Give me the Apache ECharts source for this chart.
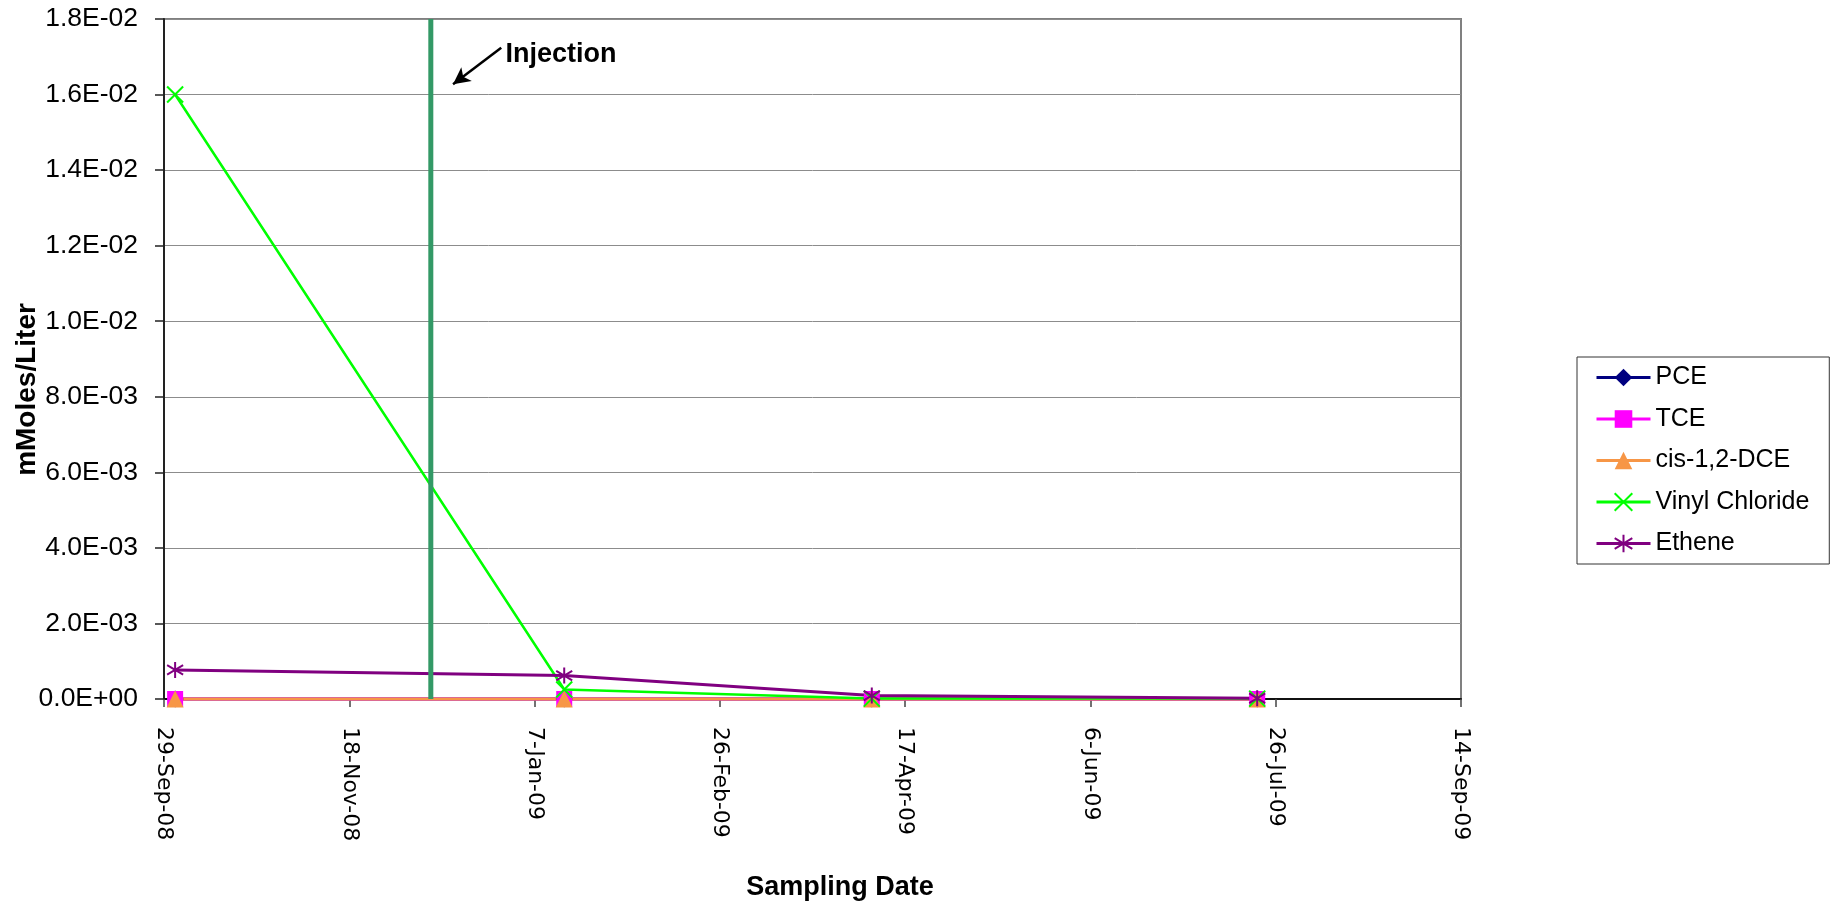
<!DOCTYPE html>
<html>
<head>
<meta charset="utf-8">
<title>mMoles/Liter vs Sampling Date</title>
<script src="https://cdn.jsdelivr.net/npm/echarts@6/dist/echarts.min.js"></script>
<style>
  html, body { margin: 0; padding: 0; background: #ffffff; }
  #chart { width: 1836px; height: 908px; }
</style>
</head>
<body>
<div id="chart"></div>
<script>
// Sampling dates and measured concentrations (mMoles/Liter)
const sampleDates = ['2008-10-02', '2009-01-15', '2009-04-08', '2009-07-21'];
const pce = [0, 0, 0, 0];
const tce = [0, 0, 0, 0];
const cisDce = [0, 0, 0, 0];
const vinylChloride = [0.016, 0.00025, 0.00001, 0.00001];
const ethene = [0.00077, 0.00062, 0.00009, 0.00002];

// Axis settings: x axis runs in days from its first tick date
const axisStartDate = '2008-09-29';
const xAxisDays = 350;
const xTickDays = 50;
const yMax = 0.018;
const yTick = 0.002;

// Injection event and its annotation arrow / label anchors
const injectionDate = '2008-12-10';
const injectionLabel = 'Injection';
const arrowTail = ['2008-12-29', 0.01724];
const arrowHead = ['2008-12-16', 0.01627];
const labelAnchor = ['2008-12-30', 0.01707];

const seriesNames = ['PCE', 'TCE', 'cis-1,2-DCE', 'Vinyl Chloride', 'Ethene'];
const MONTHS = ['Jan','Feb','Mar','Apr','May','Jun','Jul','Aug','Sep','Oct','Nov','Dec'];
const DAY_MS = 86400000;

function toUTC(s) {
  const p = s.split('-').map(Number);
  return Date.UTC(p[0], p[1] - 1, p[2]);
}
const startMs = toUTC(axisStartDate);
function dayOffset(s) { return Math.round((toUTC(s) - startMs) / DAY_MS); }

function fmtDate(days) {
  const d = new Date(startMs + Math.round(days) * DAY_MS);
  const yy = String(d.getUTCFullYear() % 100).padStart(2, '0');
  return d.getUTCDate() + '-' + MONTHS[d.getUTCMonth()] + '-' + yy;
}

function fmtSci(v) {
  if (Math.abs(v) < 1e-12) return '0.0E+00';
  let e = Math.floor(Math.log10(Math.abs(v)));
  let m = v / Math.pow(10, e);
  if (Math.round(m * 10) / 10 >= 10) { m /= 10; e += 1; }
  return m.toFixed(1) + 'E' + (e < 0 ? '-' : '+') + String(Math.abs(e)).padStart(2, '0');
}

function pairs(values) {
  return sampleDates.map((d, i) => [dayOffset(d), values[i]]);
}

const xMarkPath = 'path://M0,0L10,10M10,0L0,10';
const starPath = 'path://M5,0L5,10M0,2L10,8M10,2L0,8';

function lineSeries(name, values, color, symbol, size, hollow, width) {
  return {
    name: name,
    type: 'line',
    data: pairs(values),
    clip: false,
    symbol: symbol,
    symbolSize: size,
    showAllSymbol: true,
    lineStyle: { color: color, width: width },
    itemStyle: hollow
      ? { color: 'none', borderColor: color, borderWidth: 2 }
      : { color: color, borderWidth: 0 },
    emphasis: { disabled: true }
  };
}

const injDay = dayOffset(injectionDate);
const FONT = '"Liberation Sans", Arial, sans-serif';

const chart = echarts.init(document.getElementById('chart'), null, { renderer: 'canvas' });

chart.setOption({
  animation: false,
  backgroundColor: '#ffffff',
  grid: {
    left: 164, right: 375, top: 19, bottom: 209,
    show: true, borderColor: '#808080', borderWidth: 2, backgroundColor: 'transparent'
  },
  legend: {
    data: seriesNames,
    orient: 'vertical',
    left: 1577,
    top: 357,
    padding: [7.5, 20, 7.5, 18],
    itemWidth: 54,
    itemHeight: 22,
    itemGap: 15.5,
    borderColor: '#333',
    borderWidth: 1,
    backgroundColor: '#ffffff',
    lineStyle: { width: 3 },
    textStyle: { fontFamily: FONT, fontSize: 25, color: '#000', lineHeight: 26 },
    selectedMode: false
  },
  xAxis: {
    type: 'value',
    min: 0,
    max: xAxisDays,
    interval: xTickDays,
    axisLine: { show: true, onZero: false, lineStyle: { color: '#111', width: 2 } },
    axisTick: { show: true, length: 8, lineStyle: { color: '#444', width: 1.5 } },
    splitLine: { show: false },
    axisLabel: {
      rotate: -90,
      margin: 28,
      color: '#000',
      fontFamily: '"DejaVu Sans", sans-serif',
      fontSize: 22,
      formatter: v => fmtDate(v)
    }
  },
  yAxis: {
    type: 'value',
    min: 0,
    max: yMax,
    interval: yTick,
    axisLine: { show: true, lineStyle: { color: '#222', width: 2 } },
    axisTick: { show: true, length: 9, lineStyle: { color: '#222', width: 1.5 } },
    splitLine: { show: true, lineStyle: { color: '#8c8c8c', width: 1 } },
    axisLabel: {
      margin: 26,
      color: '#000',
      fontFamily: FONT,
      fontSize: 26.5,
      formatter: v => fmtSci(v)
    }
  },
  graphic: [
    {
      type: 'text',
      x: 27, y: 389.5,
      rotation: Math.PI / 2,
      style: {
        text: 'mMoles/Liter', fill: '#000',
        font: 'bold 28px "Liberation Sans", Arial, sans-serif',
        align: 'center', verticalAlign: 'middle'
      }
    },
    {
      type: 'text',
      x: 840, y: 888,
      style: {
        text: 'Sampling Date', fill: '#000',
        font: 'bold 27px "Liberation Sans", Arial, sans-serif',
        align: 'center', verticalAlign: 'middle'
      }
    }
  ],
  series: [
    lineSeries('PCE', pce, '#000080', 'diamond', 17, false, 3),
    lineSeries('TCE', tce, '#FF00FF', 'rect', 16, false, 3),
    lineSeries('cis-1,2-DCE', cisDce, '#F79646', 'triangle', 17, false, 3),
    lineSeries('Vinyl Chloride', vinylChloride, '#00FF00', xMarkPath, 16, true, 2.5),
    lineSeries('Ethene', ethene, '#800080', starPath, 16, true, 3),
    {
      name: injectionLabel,
      type: 'line',
      data: [[injDay, 0], [injDay, yMax]],
      showSymbol: false,
      symbol: 'none',
      clip: false,
      z: 5,
      lineStyle: { color: '#339966', width: 5 },
      emphasis: { disabled: true },
      markLine: {
        silent: true,
        symbol: ['none', 'arrow'],
        symbolSize: [13, 17],
        lineStyle: { color: '#000', width: 2.5, type: 'solid' },
        label: { show: false },
        data: [[
          { coord: [dayOffset(arrowTail[0]), arrowTail[1]] },
          { coord: [dayOffset(arrowHead[0]), arrowHead[1]] }
        ]]
      },
      markPoint: {
        silent: true,
        symbol: 'circle',
        symbolSize: 1,
        itemStyle: { color: 'transparent' },
        label: {
          show: true,
          position: 'right',
          distance: 0,
          formatter: injectionLabel,
          color: '#000',
          fontFamily: FONT,
          fontWeight: 'bold',
          fontSize: 27
        },
        data: [{ coord: [dayOffset(labelAnchor[0]), labelAnchor[1]] }]
      }
    }
  ]
});
</script>
</body>
</html>
